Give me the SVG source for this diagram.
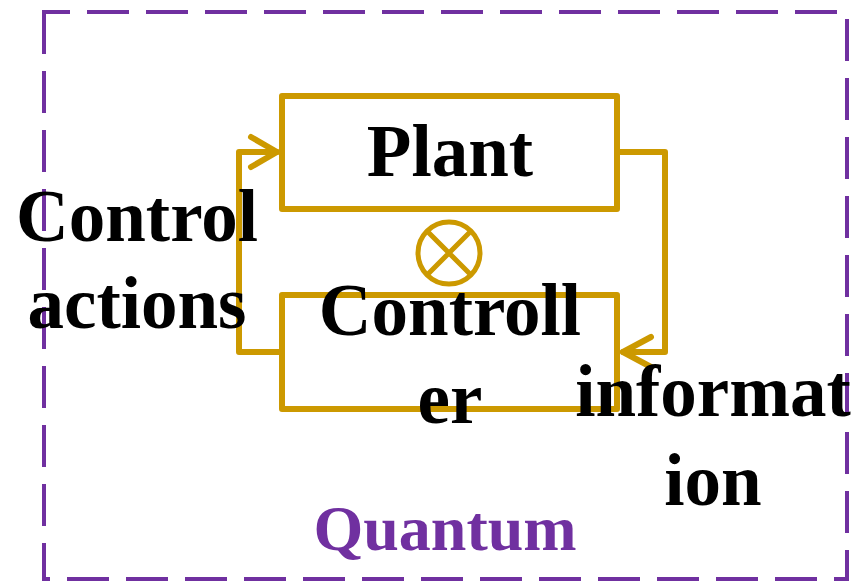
<svg xmlns="http://www.w3.org/2000/svg" width="867" height="583" viewBox="0 0 867 583">
<style>
.box{fill:none;stroke:#CC9900;stroke-width:6;stroke-linejoin:round;stroke-linecap:round}
.conn{fill:none;stroke:#CC9900;stroke-width:6;stroke-linejoin:round;stroke-linecap:round}
.lbl{font-family:"Liberation Serif","Times New Roman",serif;font-weight:bold;font-size:73px;fill:#000;text-anchor:middle}
.q{font-family:"Liberation Serif","Times New Roman",serif;font-weight:bold;font-size:64px;fill:#7030A0;text-anchor:middle}
</style>
<rect width="867" height="583" fill="#fff"/>
<g id="quantum-frame">
<path d="M44,12 V579 H847 V12 Z" fill="none" stroke="#7030A0" stroke-width="4" stroke-dasharray="42,17"/>
</g>
<g id="connectors">
<path class="conn" d="M282,352 H239 V152 H277"/>
<path class="conn" d="M251,137 L277,152 L251,167"/>
<path class="conn" d="M617,152 H665 V352 H623"/>
<path class="conn" d="M651,337 L623,352 L651,367"/>
</g>
<g id="plant">
<rect class="box" x="282" y="96" width="335" height="113"/>
</g>
<g id="controller">
<rect class="box" x="282" y="295" width="335" height="114"/>
</g>
<g id="tensor">
<circle cx="449" cy="253" r="31" fill="none" stroke="#CC9900" stroke-width="5"/>
<path d="M427,231 L471,275 M471,231 L427,275" stroke="#CC9900" stroke-width="5"/>
</g>
<g id="labels">
<text class="lbl" x="450" y="176">Plant</text>
<text class="lbl" x="450" y="335">Controll</text>
<text class="lbl" x="450" y="423">er</text>
<text class="lbl" x="137" y="241">Control</text>
<text class="lbl" x="137" y="328">actions</text>
<text class="lbl" x="713" y="416">informat</text>
<text class="lbl" x="713" y="505">ion</text>
<text class="q" x="445" y="550">Quantum</text>
</g>
</svg>
